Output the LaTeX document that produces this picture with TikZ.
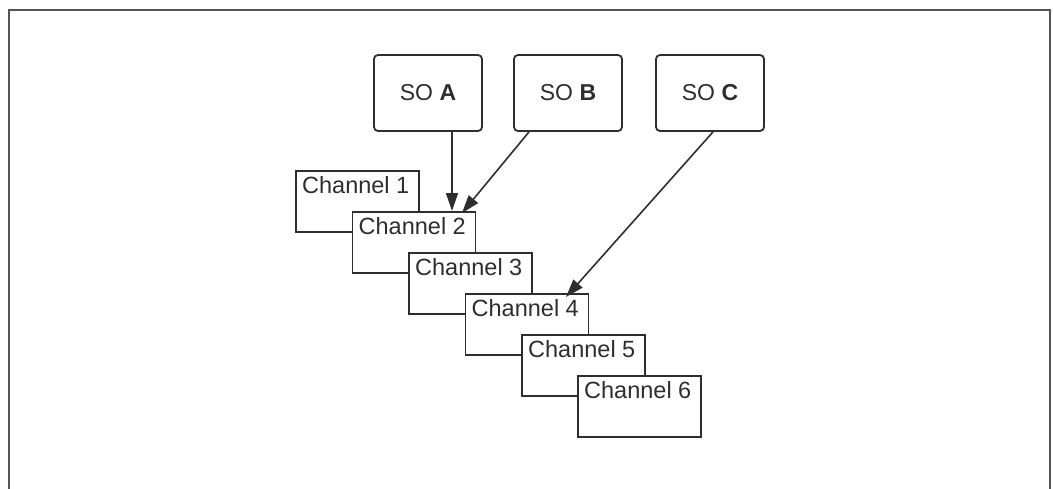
\documentclass[tikz,border=0pt]{standalone}
\usepackage{fontspec}
\setmainfont{Liberation Sans}
\usetikzlibrary{arrows.meta,calc}
\definecolor{ink}{HTML}{2E2E2E}
\definecolor{frame}{HTML}{555555}
\tikzset{
  sobox/.style={draw=ink, line width=1.8pt, rounded corners=4pt, fill=white,
    minimum width=108pt, minimum height=76pt, inner sep=0pt,
    font=\fontsize{23}{27}\selectfont, text=ink},
  chanbox/.style={draw=ink, line width=1.8pt, fill=white, anchor=north west,
    minimum width=123pt, minimum height=61pt, inner sep=0pt},
  chantext/.style={anchor=base west, inner sep=0pt,
    font=\fontsize{23.5}{27}\selectfont, text=ink},
  feed/.style={draw=ink, line width=1.6pt,
    -{Triangle[length=18pt, width=12pt]}},
}
\newcommand{\chan}[3]{%
  \node[chanbox] (c#1) at (#2,#3) {};
  \node[chantext] (t#1) at ($(c#1.north west)+(7pt,-23pt)$) {Channel #1};}
\begin{document}
\begin{tikzpicture}[x=1pt,y=-1pt]
  \useasboundingbox (0,0) rectangle (1053,488);
  % open outer frame
  \draw[frame, line width=2pt] (8.5,490) -- (8.5,9.5) -- (1050,9.5) -- (1050,490);

  % stacked channel cards
  \chan{1}{295}{170}
  \chan{2}{351.5}{211}
  \chan{3}{408}{252}
  \chan{4}{464.5}{293}
  \chan{5}{521}{334}
  \chan{6}{577}{375}

  % source boxes
  \node[sobox] (soa) at (428,93) {SO \textbf{A}};
  \node[sobox] (sob) at (568,93) {SO \textbf{B}};
  \node[sobox] (soc) at (710,93) {SO \textbf{C}};

  % arrow end points on the channel cards
  \coordinate (ea) at ($(c2.north west)+(100.5pt,0)$);
  \coordinate (eb) at ($(c2.north west)+(110.5pt,-2pt)$);
  \coordinate (ec) at ($(c4.north west)+(101.5pt,-4pt)$);

  \draw[feed] (soa.south -| ea) -- (ea);
  \draw[feed] ($(sob.south)+(-39pt,0)$) -- (eb);
  \draw[feed] ($(soc.south)+(3pt,0)$) -- (ec);
\end{tikzpicture}
\end{document}
